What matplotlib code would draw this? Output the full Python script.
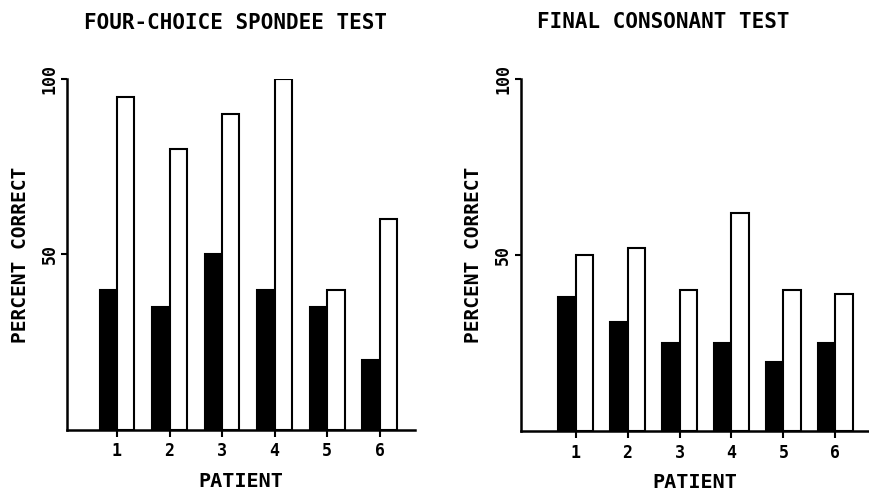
import numpy as np
import matplotlib
matplotlib.use("Agg")
import matplotlib.pyplot as plt

plt.rcParams['font.family'] = ['DejaVu Sans Mono']
plt.rcParams['font.weight'] = 'bold'
plt.rcParams['axes.titleweight'] = 'bold'
plt.rcParams['axes.labelweight'] = 'bold'

patients = [1, 2, 3, 4, 5, 6]

# four-choice spondee test (black = first condition, white = second)
spondee_black = [40, 35, 50, 40, 35, 20]
spondee_white = [95, 80, 90, 100, 40, 60]

# final consonant test
consonant_black = [38, 31, 25, 25, 19.5, 25]
consonant_white = [50, 52, 40, 62, 40, 39]

titles = ["FOUR-CHOICE SPONDEE TEST", "FINAL CONSONANT TEST"]

fig = plt.figure(figsize=(8.69, 4.94), dpi=100)
ax1 = fig.add_axes([0.0771, 0.1296, 0.4005, 0.7105])
ax2 = fig.add_axes([0.599, 0.1275, 0.400, 0.7126])

w = 0.33
x = np.array(patients)

panels = [
    (ax1, spondee_black, spondee_white, (0.05, 6.67), 0.483),
    (ax2, consonant_black, consonant_white, (-0.06, 6.63), 0.41),
]

for (ax, blk, wht, xl, tx), title in zip(panels, titles):
    ax.bar(x - w, blk, width=w, align='edge', color='black',
           edgecolor='black', linewidth=1.5)
    ax.bar(x, wht, width=w, align='edge', color='white',
           edgecolor='black', linewidth=1.5)
    ax.set_xlim(*xl)
    ax.set_ylim(0, 100)
    ax.spines['top'].set_visible(False)
    ax.spines['right'].set_visible(False)
    ax.spines['left'].set_linewidth(1.8)
    ax.spines['bottom'].set_linewidth(1.8)
    ax.set_xticks(patients)
    ax.set_xticklabels([str(p) for p in patients], fontsize=12)
    ax.set_yticks([50, 100])
    ax.set_yticklabels(['50', '100'], rotation=90, va='center', fontsize=12)
    ax.tick_params(axis='x', length=5, width=1.5, pad=4)
    ax.tick_params(axis='y', length=4, width=1.5, pad=2)
    ax.set_xlabel("PATIENT", fontsize=14.5, labelpad=8)
    ax.set_ylabel("PERCENT CORRECT", fontsize=14, labelpad=8)
    ax.set_title(title, fontsize=15, x=tx, y=1.12)

fig.savefig("out.png", dpi=100)
